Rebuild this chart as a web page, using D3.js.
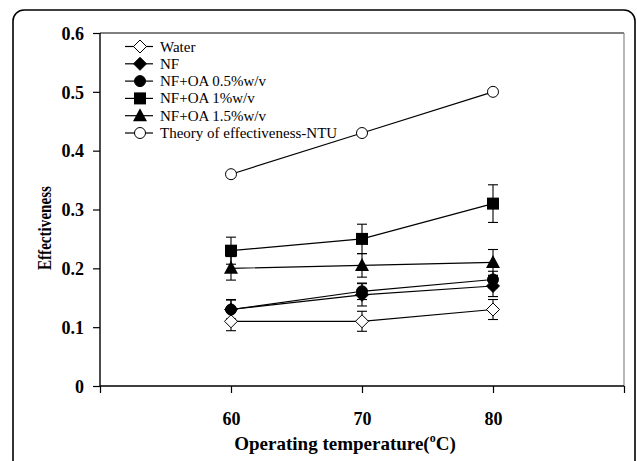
<!DOCTYPE html>
<html><head><meta charset="utf-8">
<script src="https://cdn.jsdelivr.net/npm/d3@7"></script>
<style>
body{margin:0;background:#fff;}
text{font-family:"Liberation Serif","Times New Roman",serif;}
</style></head>
<body><svg id="c" width="637" height="461"></svg>
<script>
const temps = [60, 70, 80];
const seriesNames = ["Water", "NF", "NF+OA 0.5%w/v", "NF+OA 1%w/v", "NF+OA 1.5%w/v", "Theory of effectiveness-NTU"];
const water = [0.11, 0.11, 0.13];
const waterErr = [0.016, 0.017, 0.017];
const nf = [0.13, 0.155, 0.17];
const nfErr = [0.016, 0.019, 0.018];
const oa05 = [0.13, 0.161, 0.181];
const oa05Err = [0.017, 0.014, 0.014];
const oa1 = [0.23, 0.25, 0.31];
const oa1Err = [0.023, 0.025, 0.032];
const oa15 = [0.20, 0.205, 0.21];
const oa15Err = [0.02, 0.02, 0.022];
const theory = [0.36, 0.43, 0.50];
const markers = ["diamondOpen", "diamond", "circle", "square", "triangle", "circleOpen"];
const xTicks = [50, 60, 70, 80, 90];
const xLabels = [60, 70, 80];
const yTicks = [0, 0.1, 0.2, 0.3, 0.4, 0.5, 0.6];

const series = [
  {name: seriesNames[0], v: water, e: waterErr, m: markers[0]},
  {name: seriesNames[1], v: nf, e: nfErr, m: markers[1]},
  {name: seriesNames[2], v: oa05, e: oa05Err, m: markers[2]},
  {name: seriesNames[3], v: oa1, e: oa1Err, m: markers[3]},
  {name: seriesNames[4], v: oa15, e: oa15Err, m: markers[4]},
  {name: seriesNames[5], v: theory, e: null, m: markers[5]}
];

const svg = d3.select("#c");
// outer frame
svg.append("rect").attr("x", 13).attr("y", 10).attr("width", 622).attr("height", 470)
  .attr("rx", 11).attr("fill", "none").attr("stroke", "#000").attr("stroke-width", 1.6);

const L = 100, R = 624, T = 33, B = 386;
const x = d3.scaleLinear().domain([50, 90]).range([L, R]);
const y = d3.scaleLinear().domain([0, 0.6]).range([B, T]);

// plot frame top and right
svg.append("line").attr("x1", L).attr("x2", R).attr("y1", T).attr("y2", T).attr("stroke", "#000").attr("stroke-width", 1.2);
svg.append("line").attr("x1", R).attr("x2", R).attr("y1", T).attr("y2", B).attr("stroke", "#888").attr("stroke-width", 1.2);

const xAxis = svg.append("g").attr("transform", `translate(0,${B})`)
  .call(d3.axisBottom(x).tickValues(xTicks).tickSize(7).tickFormat(d => xLabels.includes(d) ? d : ""));
xAxis.select(".domain").attr("stroke-width", 1.4).attr("d", `M${L},0H${R}`);
xAxis.selectAll(".tick line").attr("stroke-width", 1.2);
xAxis.selectAll(".tick text").attr("font-size", 18).attr("font-weight", "bold")
  .attr("font-family", "Liberation Serif").attr("dy", 0).attr("y", 39);

const yAxis = svg.append("g").attr("transform", `translate(${L},0)`)
  .call(d3.axisLeft(y).tickValues(yTicks).tickSize(7).tickFormat(d => d === 0 ? "0" : d3.format(".1f")(d)));
yAxis.select(".domain").attr("stroke-width", 1.4).attr("d", `M0,${B}V${T}`);
yAxis.selectAll(".tick line").attr("stroke-width", 1.2);
yAxis.selectAll(".tick text").attr("font-size", 18).attr("font-weight", "bold")
  .attr("font-family", "Liberation Serif").attr("x", -16).attr("dy", "0.35em");

// axis titles
const xt = svg.append("text").attr("x", 345).attr("y", 450).attr("text-anchor", "middle")
  .attr("font-size", 19).attr("font-weight", "bold");
xt.append("tspan").text("Operating temperature(");
xt.append("tspan").text("o").attr("font-size", 12).attr("dy", -8);
xt.append("tspan").text("C)").attr("dy", 8);

svg.append("text").attr("transform", "translate(51,228) rotate(-90)").attr("text-anchor", "middle")
  .attr("font-size", 18).attr("font-weight", "bold")
  .attr("textLength", 84).attr("lengthAdjust", "spacingAndGlyphs").text("Effectiveness");

function drawMarker(g, type, cx, cy) {
  if (type === "diamondOpen" || type === "diamond") {
    const s = 6.5;
    g.append("path").attr("d", `M${cx},${cy - s}L${cx + s},${cy}L${cx},${cy + s}L${cx - s},${cy}Z`)
      .attr("fill", type === "diamond" ? "#000" : "#fff").attr("stroke", "#000").attr("stroke-width", 1);
  } else if (type === "circle" || type === "circleOpen") {
    g.append("circle").attr("cx", cx).attr("cy", cy).attr("r", 5.5)
      .attr("fill", type === "circle" ? "#000" : "#fff").attr("stroke", "#000").attr("stroke-width", 1);
  } else if (type === "square") {
    g.append("rect").attr("x", cx - 6).attr("y", cy - 6).attr("width", 12).attr("height", 12).attr("fill", "#000");
  } else if (type === "triangle") {
    g.append("path").attr("d", `M${cx},${cy - 7.5}L${cx + 7},${cy + 5.5}L${cx - 7},${cy + 5.5}Z`).attr("fill", "#000");
  }
}

const line = d3.line().x((d, i) => x(temps[i])).y(d => y(d));
const plot = svg.append("g");
series.forEach(s => {
  plot.append("path").attr("d", line(s.v)).attr("fill", "none").attr("stroke", "#000").attr("stroke-width", 1.2);
});
series.forEach(s => {
  if (!s.e) return;
  s.v.forEach((v, i) => {
    const cx = x(temps[i]), y1 = y(v + s.e[i]), y2 = y(v - s.e[i]);
    plot.append("line").attr("x1", cx).attr("x2", cx).attr("y1", y1).attr("y2", y2).attr("stroke", "#000").attr("stroke-width", 1.1);
    [y1, y2].forEach(yy => plot.append("line").attr("x1", cx - 5).attr("x2", cx + 5).attr("y1", yy).attr("y2", yy).attr("stroke", "#000").attr("stroke-width", 1.1));
  });
});
series.forEach(s => {
  s.v.forEach((v, i) => drawMarker(plot, s.m, x(temps[i]), y(v)));
});

// legend
const leg = svg.append("g");
series.forEach((s, i) => {
  const ly = 46.5 + i * 17.3;
  leg.append("line").attr("x1", 125).attr("x2", 153).attr("y1", ly).attr("y2", ly).attr("stroke", "#000").attr("stroke-width", 1.2);
  drawMarker(leg, s.m, 140, ly);
  leg.append("text").attr("x", 160).attr("y", ly + 5).attr("font-size", 15).text(s.name);
});
</script></body></html>
